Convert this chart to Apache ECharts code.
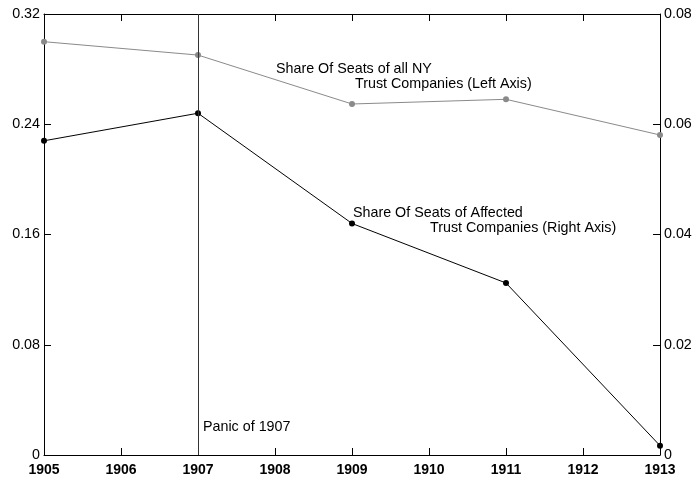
<!DOCTYPE html>
<html>
<head>
<meta charset="utf-8">
<script src="https://cdn.jsdelivr.net/npm/echarts@6/dist/echarts.min.js"></script>
<style>html,body{margin:0;padding:0;background:#fff}#c{width:696px;height:478px}</style>
</head>
<body>
<div id="c"></div>
<script>
const years = [1905, 1907, 1909, 1911, 1913];
const allNY = [0.2999, 0.2902, 0.2547, 0.2581, 0.2322];
const affected = [0.0570, 0.0620, 0.0420, 0.0312, 0.0017];
const leftTicks = ['0', '0.08', '0.16', '0.24', '0.32'];
const rightTicks = ['0', '0.02', '0.04', '0.06', '0.08'];
const panicYear = 1907;

const FONT = 'Liberation Sans, Arial, sans-serif';
const chart = echarts.init(document.getElementById('c'), null, {renderer: 'canvas'});

function fmtL(v){ const i = Math.round(v / 0.08); return leftTicks[i] !== undefined ? leftTicks[i] : ''; }
function fmtR(v){ const i = Math.round(v / 0.02); return rightTicks[i] !== undefined ? rightTicks[i] : ''; }

const txt = (coord, text) => ({
  coord: coord, value: text, symbol: 'circle', symbolSize: 0,
  label: {show: true, position: 'inside', align: 'left', verticalAlign: 'middle',
          formatter: text, color: '#000', fontSize: 14.3, fontFamily: FONT}
});

const tick = {show: true, inside: true, length: 7, lineStyle: {color: '#000', width: 1}};
const line = {show: true, onZero: false, lineStyle: {color: '#000', width: 1}};

chart.setOption({
  animation: false,
  backgroundColor: '#fff',
  grid: {left: 44, right: 36, top: 14, bottom: 23},
  xAxis: [{
    type: 'value', position: 'bottom', min: 1905, max: 1913, interval: 1,
    axisLine: line,
    axisTick: tick,
    axisLabel: {color: '#000', fontSize: 14, fontWeight: 'bold', fontFamily: FONT, margin: 8,
                formatter: v => String(v)},
    splitLine: {show: false}
  }, {
    type: 'value', position: 'top', min: 1905, max: 1913, interval: 1,
    axisLine: line,
    axisTick: tick,
    axisLabel: {show: false},
    splitLine: {show: false}
  }],
  yAxis: [{
    type: 'value', min: 0, max: 0.32, interval: 0.08, position: 'left',
    axisLine: line,
    axisTick: tick,
    axisLabel: {color: '#000', fontSize: 14.3, fontFamily: FONT, margin: 4, formatter: fmtL},
    splitLine: {show: false}
  }, {
    type: 'value', min: 0, max: 0.08, interval: 0.02, position: 'right',
    axisLine: line,
    axisTick: tick,
    axisLabel: {color: '#000', fontSize: 14.3, fontFamily: FONT, margin: 4, formatter: fmtR},
    splitLine: {show: false}
  }],
  series: [{
    name: 'Share Of Seats of all NY Trust Companies (Left Axis)',
    type: 'line', xAxisIndex: 0, yAxisIndex: 0,
    data: years.map((y, i) => [y, allNY[i]]),
    symbol: 'circle', symbolSize: 6,
    lineStyle: {color: '#8a8a8a', width: 1},
    itemStyle: {color: '#8a8a8a'},
    markLine: {
      silent: true, symbol: ['none', 'none'],
      lineStyle: {color: '#333', width: 1, type: 'solid'},
      label: {show: false},
      data: [{xAxis: panicYear}]
    },
    markPoint: {
      silent: true,
      data: [
        txt([1907.065, 0.0203], 'Panic of 1907'),
        txt([1908.013, 0.2801], 'Share Of Seats of all NY'),
        txt([1909.039, 0.2692], 'Trust Companies (Left Axis)'),
        txt([1909.013, 0.1756], 'Share Of Seats of Affected'),
        txt([1910.013, 0.1647], 'Trust Companies (Right Axis)')
      ]
    }
  }, {
    name: 'Share Of Seats of Affected Trust Companies (Right Axis)',
    type: 'line', xAxisIndex: 0, yAxisIndex: 1,
    data: years.map((y, i) => [y, affected[i]]),
    symbol: 'circle', symbolSize: 6,
    lineStyle: {color: '#000', width: 1},
    itemStyle: {color: '#000'}
  }]
});
</script>
</body>
</html>
